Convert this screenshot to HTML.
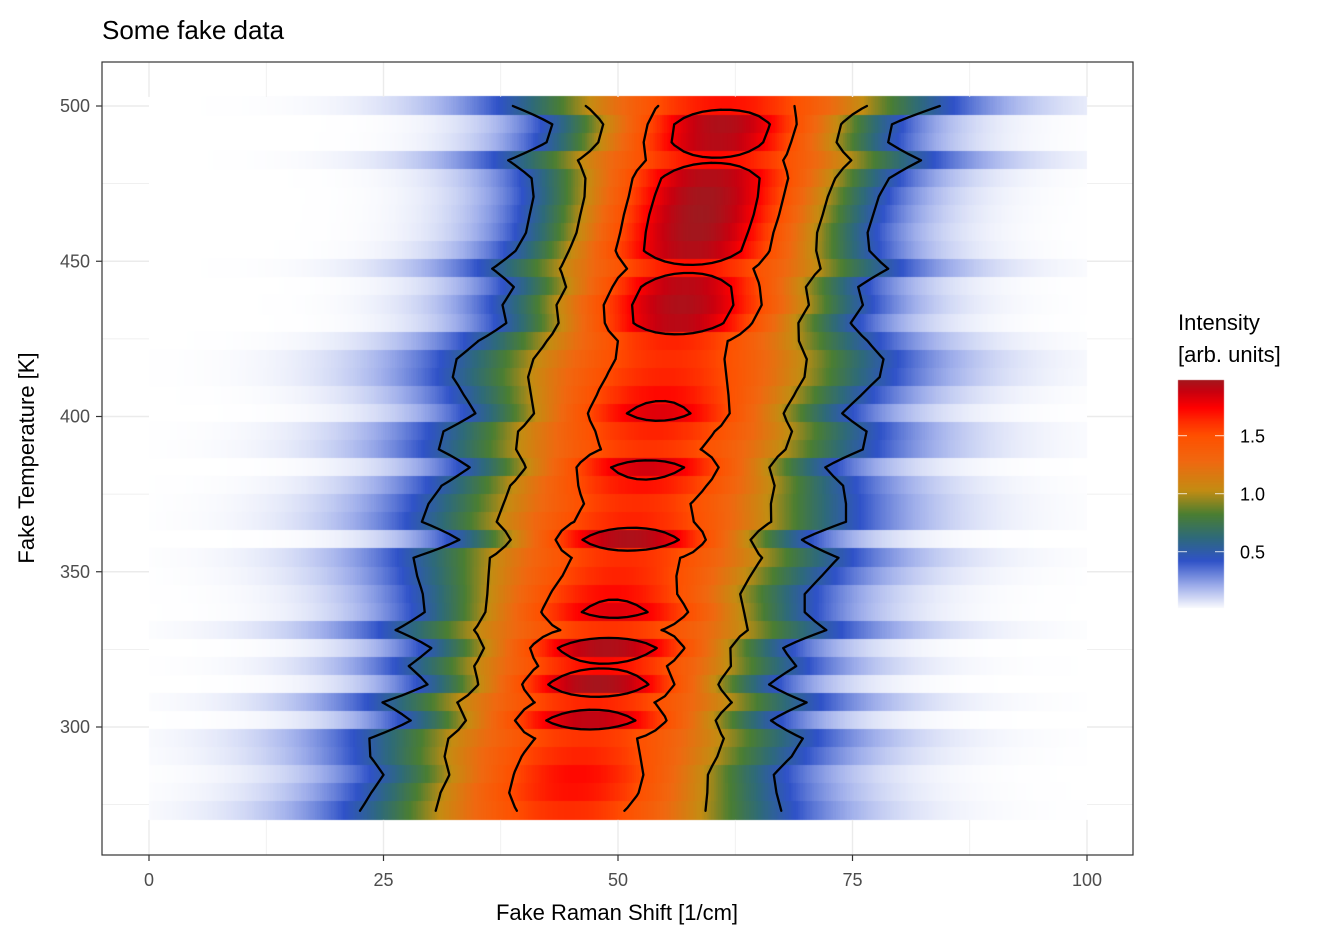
<!DOCTYPE html>
<html><head><meta charset="utf-8">
<style>
html,body{margin:0;padding:0;background:#fff;}
#wrap{position:relative;width:1344px;height:940px;overflow:hidden;font-family:"Liberation Sans",Arial,sans-serif;}
canvas,svg{position:absolute;left:0;top:0;}
</style></head>
<body>
<div id="wrap">
<canvas id="cv" width="1344" height="940"></canvas>
<svg id="sv" width="1344" height="940" xmlns="http://www.w3.org/2000/svg">
  <text x="102" y="39" font-size="26" fill="#000" font-family="Liberation Sans, sans-serif">Some fake data</text>
  <text x="617" y="920" font-size="22" text-anchor="middle" fill="#000" font-family="Liberation Sans, sans-serif">Fake Raman Shift [1/cm]</text>
  <text x="0" y="0" font-size="22" text-anchor="middle" fill="#000" transform="translate(34,458) rotate(-90)" font-family="Liberation Sans, sans-serif">Fake Temperature [K]</text>
  <text x="1178" y="330" font-size="22" fill="#000" font-family="Liberation Sans, sans-serif">Intensity</text>
  <text x="1178" y="362" font-size="22" fill="#000" font-family="Liberation Sans, sans-serif">[arb. units]</text>
  <g id="grid"></g>
  <g id="contours"></g>
  <rect x="102" y="62" width="1031" height="793" fill="none" stroke="#333" stroke-width="1.2"/>
  <g id="axes"></g>
  <g id="legend"></g>
</svg>
</div>
<script>
// ---- data (rows top to bottom) ----
const temps=[500.0,494.1,488.3,482.5,476.7,470.8,465.0,459.2,453.4,447.6,441.7,435.9,430.1,424.3,418.5,412.7,406.8,401.0,395.2,389.4,383.6,377.7,371.9,366.1,360.3,354.5,348.6,342.8,337.0,331.2,325.4,319.6,313.7,307.9,302.1,296.3,290.5,284.6,278.8,273.0];
const edgeLeft=[38.8,43.0,42.4,38.3,40.8,41.0,40.6,40.2,39.1,36.6,38.9,37.7,38.1,35.1,32.8,32.4,33.6,34.8,31.4,30.9,34.2,31.2,29.8,29.1,33.1,28.2,28.6,29.2,29.4,26.3,30.1,27.7,29.7,24.9,27.9,23.5,23.6,25.0,23.7,22.5];
const edgeRight=[84.3,79.2,78.8,82.3,78.9,77.8,77.2,76.6,76.8,78.8,75.6,76.1,74.8,76.6,78.3,77.9,75.9,73.9,76.5,76.1,72.1,74.0,74.3,74.3,69.6,73.5,71.7,69.9,69.9,72.2,67.6,69.0,66.1,70.1,66.3,69.7,68.5,66.6,66.9,67.4];
const peakAmp=[1.70,1.95,1.93,1.72,1.94,1.98,1.99,1.98,1.94,1.70,1.92,1.95,1.92,1.65,1.62,1.65,1.72,1.82,1.65,1.60,1.85,1.70,1.62,1.65,1.95,1.62,1.65,1.72,1.82,1.60,1.95,1.72,1.97,1.65,1.90,1.60,1.65,1.72,1.70,1.62];
const edgeLevel=0.5;
const contourLevels=[0.5,1.0,1.5,1.75];
const xTicks=[0,25,50,75,100];
const xMinor=[12.5,37.5,62.5,87.5];
const yTicks=[300,350,400,450,500];
const yMinor=[275,325,375,425,475];
const legendTicks=[0.5,1.0,1.5];
const rowHeightK=5.82;

// ---- scales ----
const X=v=>149+v*9.38;
const Y=t=>106+(500-t)*3.105;
const LY=v=>551.7-(v-0.5)*116;

const stops=[[0,[255,255,255]],[0.2,[160,175,235]],[0.42,[47,82,200]],[0.62,[46,106,122]],[0.82,[74,126,50]],[1.03,[196,140,18]],[1.28,[240,104,16]],[1.5,[255,80,0]],[1.62,[255,45,0]],[1.74,[255,0,0]],[1.88,[200,0,15]],[2.0,[155,27,32]]];
function col(v){
  if(v<=stops[0][0])return stops[0][1];
  for(let i=1;i<stops.length;i++){
    if(v<=stops[i][0]){const a=stops[i-1],b=stops[i];const f=(v-a[0])/(b[0]-a[0]);
      return a[1].map((c,j)=>Math.round(c+(b[1][j]-c)*f));}
  }
  return stops[stops.length-1][1];
}
const cen=temps.map((t,k)=>(edgeLeft[k]+edgeRight[k])/2);
const sig=temps.map((t,k)=>((edgeRight[k]-edgeLeft[k])/2)/Math.sqrt(2*Math.log(peakAmp[k]/edgeLevel)));
const Z=(k,x)=>peakAmp[k]*Math.exp(-Math.pow(x-cen[k],2)/(2*sig[k]*sig[k]));

// ---- heatmap ----
const ctx=document.getElementById('cv').getContext('2d');
const dx=0.25;
temps.forEach((t,k)=>{
  const y0=Math.floor(Y(t+rowHeightK/2)), y1=Math.ceil(Y(t-rowHeightK/2));
  for(let x=0;x<100;x+=dx){
    const c=col(Z(k,x+dx/2));
    ctx.fillStyle='rgb('+c.join(',')+')';
    const a=X(x), b=X(x+dx);
    ctx.fillRect(Math.floor(a),y0,Math.ceil(b)-Math.floor(a),y1-y0);
  }
});
// legend bar
for(let py=380;py<608;py++){
  const v=0.5+(551.7-py-0.5)/116;
  const c=col(v);
  ctx.fillStyle='rgb('+c.join(',')+')';
  ctx.fillRect(1178,py,46,1);
}

const NS='http://www.w3.org/2000/svg';
function mk(tag,attrs,parent){const e=document.createElementNS(NS,tag);for(const a in attrs)e.setAttribute(a,attrs[a]);parent.appendChild(e);return e;}

// ---- grid ----
const grid=document.getElementById('grid');
const topT=Y(temps[0]+rowHeightK/2), botT=Y(temps[temps.length-1]-rowHeightK/2);
xTicks.concat(xMinor).forEach(v=>{
  const w=xTicks.includes(v)?1.4:0.7;
  const g1=mk('line',{x1:X(v),x2:X(v),y1:62,y2:topT,stroke:'#ebebeb','stroke-width':w},grid);
  
  
  const g2=mk('line',{x1:X(v),x2:X(v),y1:botT,y2:855,stroke:'#ebebeb','stroke-width':w},grid);
  
  
});
yTicks.concat(yMinor).forEach(v=>{
  const w=yTicks.includes(v)?1.4:0.7;
  const g1=mk('line',{x1:102,x2:X(0),y1:Y(v),y2:Y(v),stroke:'#ebebeb','stroke-width':w},grid);
  
  
  const g2=mk('line',{x1:X(100),x2:1133,y1:Y(v),y2:Y(v),stroke:'#ebebeb','stroke-width':w},grid);
  
  
});

// ---- contours (marching squares) ----
const cg=document.getElementById('contours');
const xs=[];for(let x=0;x<=100;x++)xs.push(x);
const zg=temps.map((t,k)=>xs.map(x=>Z(k,x)));
contourLevels.forEach(L=>{
  let d='';
  for(let k=0;k<temps.length-1;k++){
    for(let j=0;j<xs.length-1;j++){
      const a=zg[k][j],b=zg[k][j+1],c=zg[k+1][j+1],e=zg[k+1][j];
      const pa=[X(xs[j]),Y(temps[k])],pb=[X(xs[j+1]),Y(temps[k])],pc=[X(xs[j+1]),Y(temps[k+1])],pe=[X(xs[j]),Y(temps[k+1])];
      const ip=(p,q,v1,v2)=>{const f=(L-v1)/(v2-v1);return [p[0]+(q[0]-p[0])*f,p[1]+(q[1]-p[1])*f];};
      const P=[null,null,null,null];
      if((a>L)!==(b>L))P[0]=ip(pa,pb,a,b);
      if((b>L)!==(c>L))P[1]=ip(pb,pc,b,c);
      if((e>L)!==(c>L))P[2]=ip(pe,pc,e,c);
      if((a>L)!==(e>L))P[3]=ip(pa,pe,a,e);
      const idx=[0,1,2,3].filter(i=>P[i]);
      let segs=[];
      if(idx.length===2)segs=[[idx[0],idx[1]]];
      else if(idx.length===4){
        const ctr=(a+b+c+e)/4>L;
        if((a>L)===ctr)segs=[[0,1],[2,3]];else segs=[[0,3],[1,2]];
      }
      segs.forEach(s=>{d+='M'+P[s[0]][0].toFixed(1)+' '+P[s[0]][1].toFixed(1)+'L'+P[s[1]][0].toFixed(1)+' '+P[s[1]][1].toFixed(1);});
    }
  }
  const p=mk('path',{d:d,fill:'none',stroke:'#000','stroke-width':2.3,'stroke-linecap':'round','stroke-linejoin':'round'},cg);
  
  
});

// ---- axes ----
const ax=document.getElementById('axes');
xTicks.forEach(v=>{
  const t=mk('line',{x1:X(v),x2:X(v),y1:855,y2:861,stroke:'#333','stroke-width':1.2},ax);
  
  
  const l=mk('text',{x:X(v),y:886,'font-size':18,'text-anchor':'middle',fill:'#4d4d4d'},ax);
  l.textContent=String(v);
  
  
});
yTicks.forEach(v=>{
  const t=mk('line',{x1:96,x2:102,y1:Y(v),y2:Y(v),stroke:'#333','stroke-width':1.2},ax);
  
  
  const l=mk('text',{x:90,y:Y(v)+6,'font-size':18,'text-anchor':'end',fill:'#4d4d4d'},ax);
  l.textContent=String(v);
  
  
});

// ---- legend ----
const lg=document.getElementById('legend');
legendTicks.forEach(v=>{
  const t1=mk('line',{x1:1178,x2:1187,y1:LY(v),y2:LY(v),stroke:'#fff','stroke-width':1,'stroke-opacity':0.8},lg);
  
  
  const t2=mk('line',{x1:1215,x2:1224,y1:LY(v),y2:LY(v),stroke:'#fff','stroke-width':1,'stroke-opacity':0.8},lg);
  
  
  const l=mk('text',{x:1240,y:LY(v)+7,'font-size':18,fill:'#000'},lg);
  l.textContent=v.toFixed(1);
  
  
});
</script>
</body></html>
